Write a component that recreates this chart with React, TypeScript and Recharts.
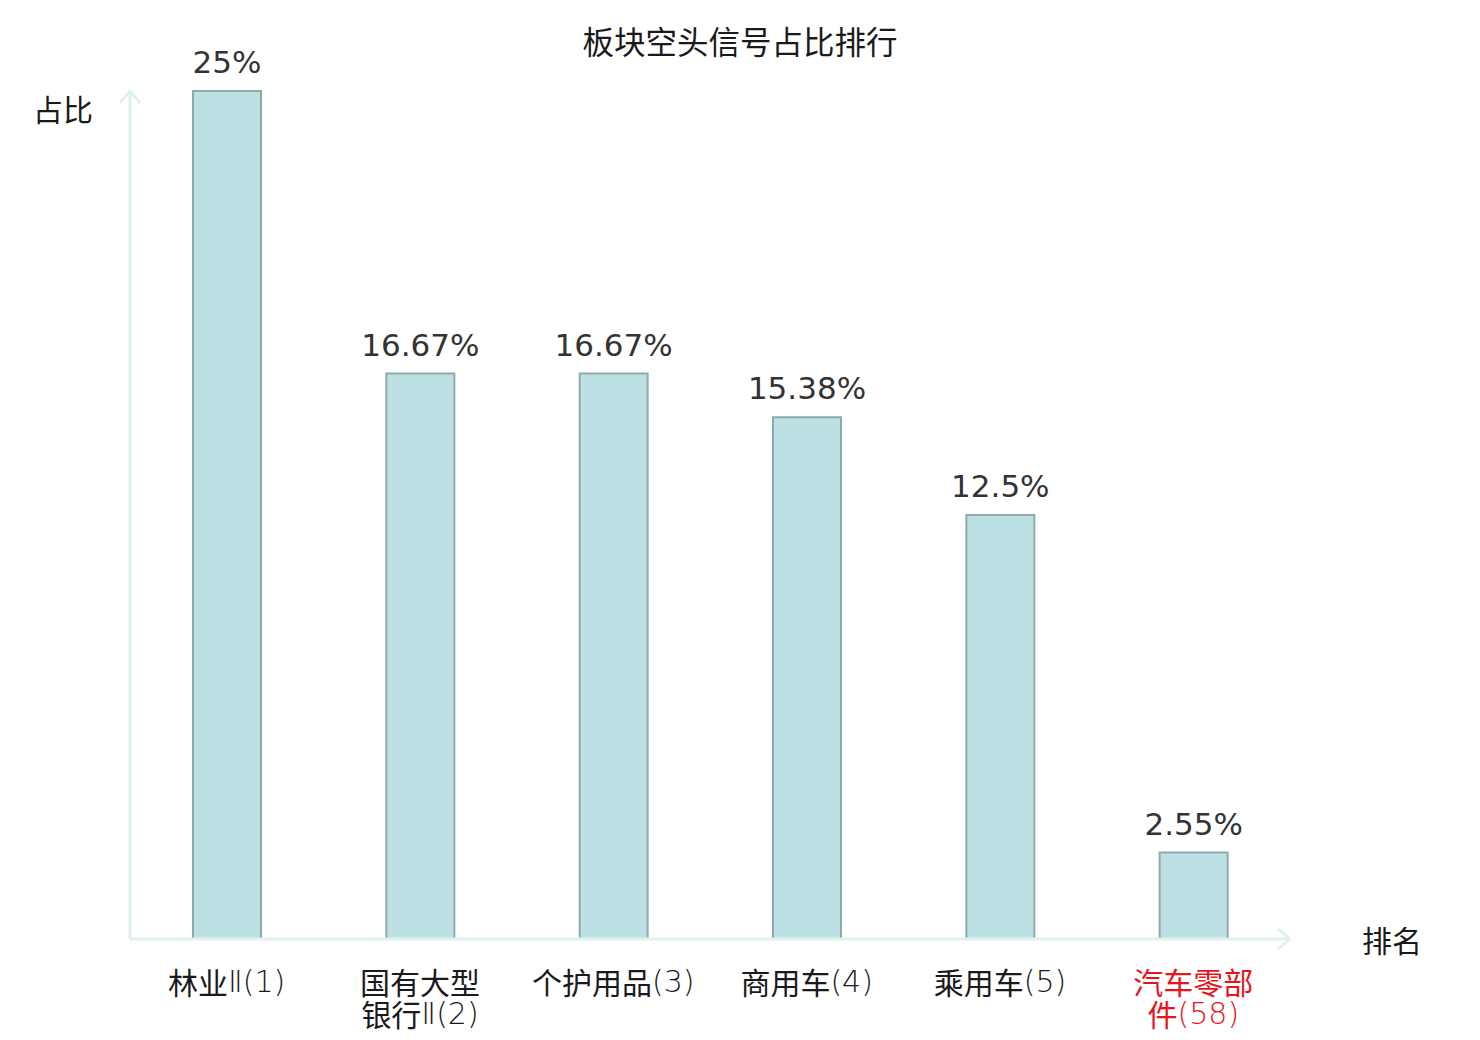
import React from 'react';
import { BarChart, Bar, XAxis, YAxis, LabelList, Label } from 'recharts';

const categories = ['林业Ⅱ(1)', '国有大型银行Ⅱ(2)', '个护用品(3)', '商用车(4)', '乘用车(5)', '汽车零部件(58)'];
const shares = [25, 16.67, 16.67, 15.38, 12.5, 2.55];
const highlighted = ['汽车零部件(58)'];

const data = categories.map((name, i) => ({ name, value: shares[i] }));

const AXIS = '#dff2f0';
const CJK = '"Noto Sans CJK SC", "DejaVu Sans", sans-serif';
const NUM = '"DejaVu Sans", "Noto Sans CJK SC", sans-serif';

if (typeof document !== 'undefined') document.body.style.margin = '0';

function wrap(label: string): string[] {
  if (label.length > 8) return [label.slice(0, 4), label.slice(4)];
  return [label];
}

// CJK runs in regular weight, the rest (Ⅱ, digits, brackets) thin
function runs(line: string) {
  return line.match(/[\u4e00-\u9fff]+|[^\u4e00-\u9fff]+/g) || [];
}

function CategoryTick(props: any) {
  const { x, y, payload } = props;
  const lines = wrap(payload.value);
  const color = highlighted.includes(payload.value) ? '#e8141c' : '#1a1a1a';
  return (
    <g transform={`translate(${x},${y})`}>
      {lines.map((line, i) => (
        <text key={i} x={0} y={34 + i * 32} textAnchor="middle" dominantBaseline="central"
          fill={color} fontSize={30}>
          {runs(line).map((r, j) =>
            /[\u4e00-\u9fff]/.test(r)
              ? <tspan key={j} fontFamily={CJK}>{r}</tspan>
              : <tspan key={j} fontFamily={NUM} fontWeight={200}>{r}</tspan>
          )}
        </text>
      ))}
    </g>
  );
}

export default function App() {
  return (
    <div style={{ position: 'relative', width: 1480, height: 1040, background: '#fff' }}>
      <svg width={0} height={0} style={{ position: 'absolute' }}>
        <defs>
          <marker id="axisArrow" viewBox="0 0 14 22" refX="13" refY="11" markerWidth="14" markerHeight="22"
            markerUnits="userSpaceOnUse" orient="auto-start-reverse">
            <path d="M1,1 L13,11 L1,21" fill="none" stroke={AXIS} strokeWidth={3} />
          </marker>
        </defs>
      </svg>
      <div style={{ position: 'absolute', top: 22, left: 0, width: 1480, textAlign: 'center',
        fontFamily: CJK, fontSize: 31.5, lineHeight: '36px', color: '#1a1a1a' }}>
        板块空头信号占比排行
      </div>
      <BarChart width={1480} height={1040} data={data}
        margin={{ top: 91, right: 190, bottom: 71, left: 70 }}>
        <XAxis dataKey="name" tickLine={false} interval={0} tick={<CategoryTick />} height={30}
          axisLine={{ stroke: AXIS, strokeWidth: 3, markerEnd: 'url(#axisArrow)' } as any}>
          <Label content={(p: any) => {
            const vb = p.viewBox;
            return (
              <text x={vb.x + vb.width + 102} y={vb.y} textAnchor="middle" dominantBaseline="central"
                fontSize={30} fontFamily={CJK} fill="#1a1a1a">排名</text>
            );
          }} />
        </XAxis>
        <YAxis width={60} domain={[0, 25]} tick={false} tickLine={false}
          axisLine={{ stroke: AXIS, strokeWidth: 3, markerStart: 'url(#axisArrow)' } as any}>
          <Label content={(p: any) => {
            const vb = p.viewBox;
            return (
              <text x={vb.x + vb.width - 67} y={vb.y + 17} textAnchor="middle" dominantBaseline="central"
                fontSize={30} fontFamily={CJK} fill="#1a1a1a">占比</text>
            );
          }} />
        </YAxis>
        <Bar dataKey="value" barSize={68} fill="#bce0e3" stroke="#8eaaad" strokeWidth={2}
          isAnimationActive={false}>
          <LabelList dataKey="value" position="top" offset={18} fill="#333" fontSize={31}
            fontFamily={NUM} formatter={(v: any) => `${v}%`} />
        </Bar>
      </BarChart>
    </div>
  );
}
